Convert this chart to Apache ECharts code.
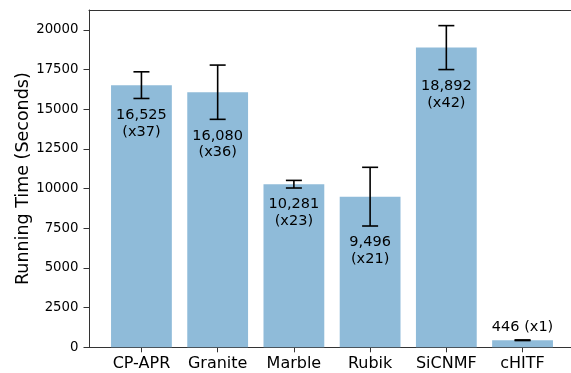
<!DOCTYPE html>
<html>
<head>
<meta charset="utf-8">
<script src="https://cdn.jsdelivr.net/npm/echarts@6/dist/echarts.min.js"></script>
<style>
  html, body { margin: 0; padding: 0; background: #fff; }
  #chart { width: 571px; height: 373px; }
</style>
</head>
<body>
<div id="chart"></div>
<script>
// Mean running time per method, with standard deviation and speedup over cHITF
const categories = ['CP-APR', 'Granite', 'Marble', 'Rubik', 'SiCNMF', 'cHITF'];
const runtimes = [16525, 16080, 10281, 9496, 18892, 446];
const stdDevs = [840, 1710, 240, 1850, 1385, 20];
const speedups = ['x37', 'x36', 'x23', 'x21', 'x42', 'x1'];
const yTicks = [0, 2500, 5000, 7500, 10000, 12500, 15000, 17500, 20000];

const FONT = 'DejaVu Sans';
const AXIS_COLOR = '#333';
const BAR_COLOR = '#8fbbd9';

const fmt = v => v.toLocaleString('en-US');
const idx = categories.map((_, i) => i);

const chart = echarts.init(document.getElementById('chart'), null, { renderer: 'canvas' });

chart.setOption({
  animation: false,
  backgroundColor: '#fff',
  grid: { left: 89, top: 10, width: 486, height: 337.3, outerBoundsMode: 'none' },
  xAxis: [{
    type: 'value',
    min: -0.688,
    max: 5.688,
    splitLine: { show: false },
    axisLine: { show: true, onZero: false, lineStyle: { color: AXIS_COLOR, width: 1 } },
    axisTick: { show: true, length: 5, customValues: idx, lineStyle: { color: AXIS_COLOR, width: 1 } },
    axisLabel: {
      customValues: idx,
      margin: 9,
      fontFamily: FONT,
      fontSize: 16,
      color: '#000',
      formatter: v => categories[Math.round(v)]
    }
  }, {
    // top frame line
    type: 'value',
    position: 'top',
    min: -0.688,
    max: 5.688,
    splitLine: { show: false },
    axisLine: { show: true, onZero: false, lineStyle: { color: AXIS_COLOR, width: 1 } },
    axisTick: { show: false },
    axisLabel: { show: false }
  }],
  yAxis: {
    type: 'value',
    min: 0,
    max: 21262,
    splitLine: { show: false },
    axisLine: { show: true, onZero: false, lineStyle: { color: AXIS_COLOR, width: 1 } },
    axisTick: { show: true, length: 5.5, customValues: yTicks, lineStyle: { color: AXIS_COLOR, width: 1 } },
    axisLabel: {
      customValues: yTicks,
      margin: 10.5,
      fontFamily: FONT,
      fontSize: 13.3,
      color: '#000',
      formatter: v => String(v)
    },
    name: 'Running Time (Seconds)',
    nameLocation: 'middle',
    nameGap: 57,
    nameMoveOverlap: false,
    nameTextStyle: { fontFamily: FONT, fontSize: 17.5, color: '#000' }
  },
  series: [{
    type: 'bar',
    barWidth: 60.8,
    itemStyle: { color: BAR_COLOR },
    data: runtimes.map((v, i) => [i, v]),
    z: 1
  }, {
    // error bars and value labels
    type: 'custom',
    z: 5,
    data: runtimes.map((v, i) => [i, v, stdDevs[i]]),
    renderItem: (params, api) => {
      const i = api.value(0);
      const mean = api.value(1);
      const sd = api.value(2);
      const top = api.coord([i, mean + sd]);
      const bot = api.coord([i, mean - sd]);
      const barTop = api.coord([i, mean]);
      const cap = 8;
      const ls = { stroke: '#000', lineWidth: 1.6 };
      const children = [
        { type: 'line', shape: { x1: top[0], y1: top[1], x2: bot[0], y2: bot[1] }, style: ls },
        { type: 'line', shape: { x1: top[0] - cap, y1: top[1], x2: top[0] + cap, y2: top[1] }, style: ls },
        { type: 'line', shape: { x1: bot[0] - cap, y1: bot[1], x2: bot[0] + cap, y2: bot[1] }, style: ls }
      ];
      const k = params.dataIndex;
      const small = (mean - sd) < 2500;
      if (small) {
        children.push({
          type: 'text',
          style: {
            x: barTop[0], y: barTop[1] - 13,
            text: fmt(runtimes[k]) + ' (' + speedups[k] + ')',
            font: '14.5px "' + FONT + '"', fill: '#000',
            align: 'center', verticalAlign: 'middle'
          }
        });
      } else {
        children.push({
          type: 'text',
          style: {
            x: bot[0], y: bot[1] + 25,
            text: fmt(runtimes[k]) + '\n(' + speedups[k] + ')',
            font: '14.5px "' + FONT + '"', fill: '#000',
            lineHeight: 16.7,
            align: 'center', verticalAlign: 'middle'
          }
        });
      }
      return { type: 'group', children };
    }
  }]
});
</script>
</body>
</html>
